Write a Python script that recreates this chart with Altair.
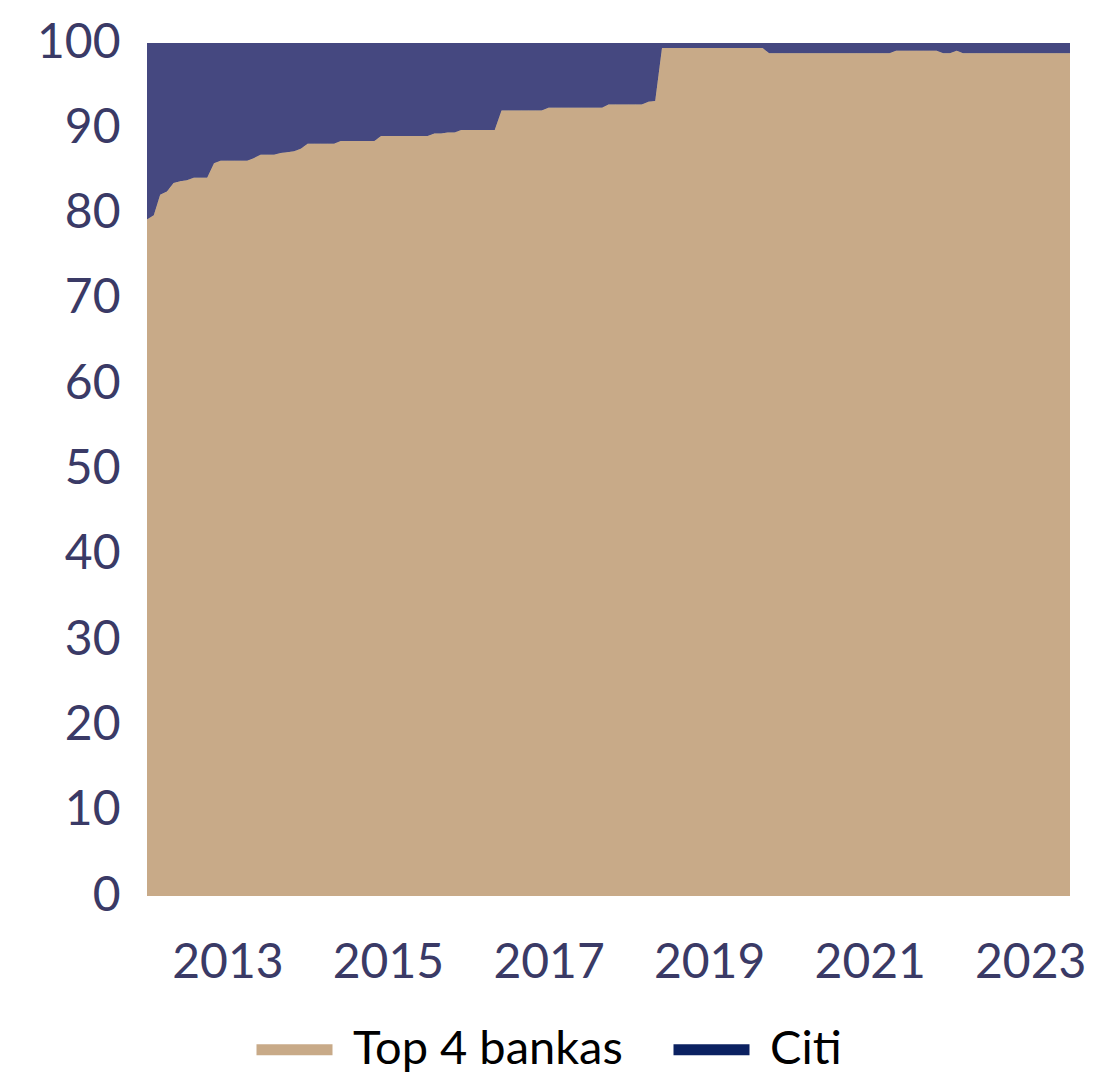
import altair as alt
import pandas as pd

# Monthly share (%) of Top 4 banks, Jan 2012 .. Jul 2023; Citi is the remainder to 100
top4 = [
    79.3, 79.8, 82.2, 82.6, 83.6, 83.8, 83.9, 84.2, 84.2, 84.2, 85.9, 86.2,  # 2012
    86.2, 86.2, 86.2, 86.2, 86.5, 86.9, 86.9, 86.9, 87.1, 87.2, 87.3, 87.6,  # 2013
    88.2, 88.2, 88.2, 88.2, 88.2, 88.5, 88.5, 88.5, 88.5, 88.5, 88.5, 89.1,  # 2014
    89.1, 89.1, 89.1, 89.1, 89.1, 89.1, 89.1, 89.4, 89.4, 89.5, 89.5, 89.8,  # 2015
    89.8, 89.8, 89.8, 89.8, 89.8, 92.1, 92.1, 92.1, 92.1, 92.1, 92.1, 92.1,  # 2016
    92.4, 92.4, 92.4, 92.4, 92.4, 92.4, 92.4, 92.4, 92.4, 92.8, 92.8, 92.8,  # 2017
    92.8, 92.8, 92.8, 93.1, 93.2, 99.4, 99.4, 99.4, 99.4, 99.4, 99.4, 99.4,  # 2018
    99.4, 99.4, 99.4, 99.4, 99.4, 99.4, 99.4, 99.4, 99.4, 98.8, 98.8, 98.8,  # 2019
    98.8, 98.8, 98.8, 98.8, 98.8, 98.8, 98.8, 98.8, 98.8, 98.8, 98.8, 98.8,  # 2020
    98.8, 98.8, 98.8, 98.8, 99.1, 99.1, 99.1, 99.1, 99.1, 99.1, 99.1, 98.8,  # 2021
    98.8, 99.1, 98.8, 98.8, 98.8, 98.8, 98.8, 98.8, 98.8, 98.8, 98.8, 98.8,  # 2022
    98.8, 98.8, 98.8, 98.8, 98.8, 98.8, 98.8,                                # 2023
]
series_names = ["Top 4 bankas", "Citi"]
tick_years = [2013, 2015, 2017, 2019, 2021, 2023]

TAN = "#C8AA88"
NAVY_AREA = "#454880"
NAVY_LEGEND = "#0B2161"
LABEL_COLOR = "#3A3A66"
FONT = "Lato"

dates = pd.date_range("2012-01-01", periods=len(top4), freq="MS")
df = pd.DataFrame({"date": dates, "top4": top4})
df["citi"] = 100 - df["top4"]
df["total"] = df["top4"] + df["citi"]

long = pd.concat([
    pd.DataFrame({"date": dates, "series": series_names[0], "v": df["top4"]}),
    pd.DataFrame({"date": dates, "series": series_names[1], "v": df["top4"]}),
])

x_enc = alt.X(
    "date:T",
    scale=alt.Scale(domain=[alt.DateTime(year=2012, month=1, date=1),
                            alt.DateTime(year=2023, month=7, date=1)], nice=False),
    axis=alt.Axis(
        values=[alt.DateTime(year=y, month=1, date=1) for y in tick_years],
        format="%Y", title=None, domain=False, ticks=False, grid=False,
        labelFont=FONT, labelFontSize=48, labelColor=LABEL_COLOR,
        labelPadding=43, labelFlush=False,
    ),
)
y_scale = alt.Scale(domain=[0, 100], nice=False)
y_axis = alt.Axis(
    values=list(range(0, 101, 10)), title=None, domain=False, ticks=False, grid=False,
    labelFont=FONT, labelFontSize=48, labelColor=LABEL_COLOR, labelPadding=27,
)

# legend carrier: thin lines drawn first, fully hidden beneath the areas
legend_layer = alt.Chart(long).mark_line(strokeWidth=0.5).encode(
    x=x_enc,
    y=alt.Y("v:Q", scale=y_scale, axis=y_axis),
    color=alt.Color(
        "series:N",
        scale=alt.Scale(domain=series_names, range=[TAN, NAVY_LEGEND]),
        legend=alt.Legend(
            title=None, orient="none", direction="horizontal",
            legendX=104, legendY=963, padding=0,
            symbolType="stroke", symbolSize=5776, symbolStrokeWidth=11,
            symbolOpacity=1, labelFont=FONT, labelFontSize=47, labelColor="#000000",
            labelOffset=15, columnPadding=28, labelLimit=400,
        ),
    ),
)

base = alt.Chart(df)
citi_area = base.mark_area(color=NAVY_AREA, interpolate="linear").encode(
    x=x_enc,
    y=alt.Y("top4:Q", scale=y_scale, axis=y_axis),
    y2="total:Q",
)
top_area = base.mark_area(color=TAN, interpolate="linear").encode(
    x=x_enc,
    y=alt.Y("top4:Q", scale=y_scale, axis=y_axis),
)

chart = alt.layer(legend_layer, citi_area, top_area).resolve_scale(
    color="independent"
).properties(
    width=923, height=853,
    autosize=alt.AutoSizeParams(type="none"),
    padding={"left": 139, "top": 35, "right": 24, "bottom": 178},
).configure_view(stroke=None)

chart.save("out.html", embed_options={"renderer": "svg", "actions": False})
